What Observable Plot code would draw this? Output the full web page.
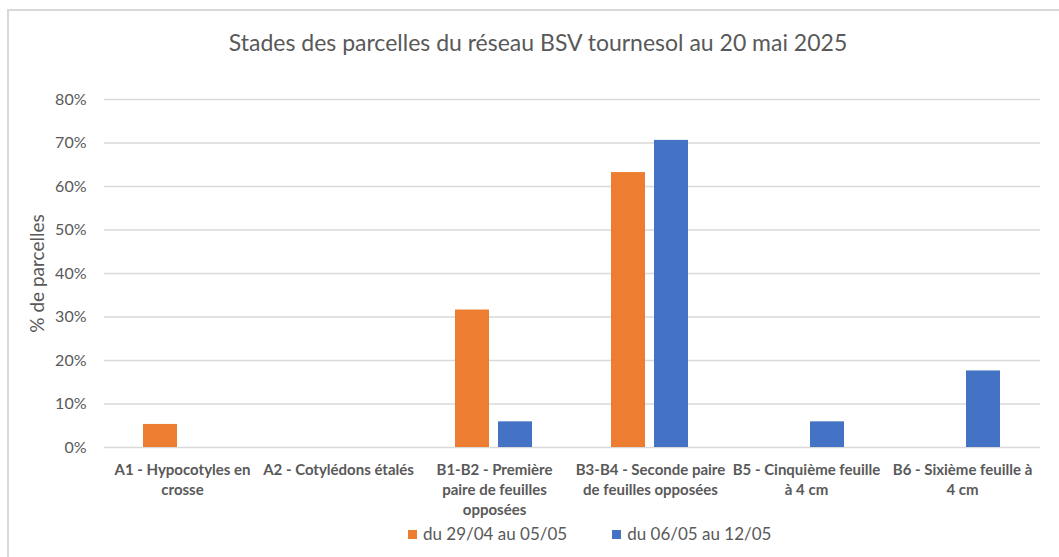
<!DOCTYPE html>
<html>
<head>
<meta charset="utf-8">
<script src="https://cdn.jsdelivr.net/npm/d3@7"></script>
<script src="https://cdn.jsdelivr.net/npm/@observablehq/plot@0.6"></script>
<style>
  html, body { margin: 0; padding: 0; background: #fff; overflow: hidden; }
  body { width: 1059px; height: 557px; position: relative; font-family: Lato, "Liberation Sans", sans-serif; color: #595959; }
  #frame { position: absolute; left: 7px; top: 9px; width: 1060px; height: 560px; border-left: 2px solid #d9d9d9; border-top: 2px solid #d9d9d9; box-sizing: border-box; }
  #title { position: absolute; left: 0; top: 27px; width: 1076px; text-align: center; font-size: 23px; line-height: 30px; }
  #chart { position: absolute; left: 0; top: 70px; }
  #legend { position: absolute; top: 523px; left: 408px; font-size: 17px; line-height: 22px; display: flex; align-items: center; }
  .item { display: flex; align-items: center; }
  .sw { width: 9px; height: 9px; margin-right: 6px; }
</style>
</head>
<body>
<div id="frame"></div>
<div id="title">Stades des parcelles du réseau BSV tournesol au 20 mai 2025</div>
<div id="chart"></div>
<div id="legend"></div>
<script>
// Data
const categories = [
  "A1 - Hypocotyles en crosse",
  "A2 - Cotylédons étalés",
  "B1-B2 - Première paire de feuilles opposées",
  "B3-B4 - Seconde paire de feuilles opposées",
  "B5 - Cinquième feuille à 4 cm",
  "B6 - Sixième feuille à 4 cm"
];
const categoryLabels = [
  "A1 - Hypocotyles en\ncrosse",
  "A2 - Cotylédons étalés",
  "B1-B2 - Première\npaire de feuilles\nopposées",
  "B3-B4 - Seconde paire\nde feuilles opposées",
  "B5 - Cinquième feuille\nà 4 cm",
  "B6 - Sixième feuille à\n4 cm"
];
const seriesNames = ["du 29/04 au 05/05", "du 06/05 au 12/05"];
const seriesColors = ["#ED7D31", "#4472C4"];
const values1 = [5.3, 0, 31.6, 63.2, 0, 0];   // du 29/04 au 05/05 (%)
const values2 = [0, 0, 5.9, 70.6, 5.9, 17.6]; // du 06/05 au 12/05 (%)
const yTicks = [0, 10, 20, 30, 40, 50, 60, 70, 80];

const data = [];
categories.forEach((c, i) => {
  data.push({category: c, series: seriesNames[0], value: values1[i]});
  data.push({category: c, series: seriesNames[1], value: values2[i]});
});
const labelOf = new Map(categories.map((c, i) => [c, categoryLabels[i]]));

const chart = Plot.plot({
  width: 1059,
  height: 452,
  marginLeft: 103,
  marginRight: 19,
  marginTop: 29,
  marginBottom: 75,
  style: {fontFamily: "Lato, 'Liberation Sans', sans-serif", color: "#595959", background: "transparent"},
  fx: {domain: categories, padding: 0},
  x: {domain: seriesNames, paddingInner: 0.2045, paddingOuter: 0.877, axis: null},
  y: {domain: [0, 80]},
  color: {domain: seriesNames, range: seriesColors},
  marks: [
    Plot.gridY(yTicks, {stroke: "#d9d9d9", strokeOpacity: 1, strokeWidth: 1.5}),
    Plot.barY(data.filter(d => d.value > 0), {fx: "category", x: "series", y: "value", fill: "series"}),
    Plot.ruleY(data, {fx: "category", y: 0, strokeOpacity: 0}),
    Plot.axisY({ticks: yTicks, facetAnchor: "left", tickSize: 0, tickPadding: 18, tickFormat: d => d + "%", fontSize: 16, label: "% de parcelles", labelAnchor: "center", labelArrow: "none", labelOffset: 74}),
    Plot.axisFx({anchor: "bottom", tickSize: 0, tickPadding: 13, tickFormat: d => labelOf.get(d), fontSize: 15, fontWeight: "bold", lineHeight: 1.34, label: null, textAnchor: "middle"})
  ]
});
chart.querySelectorAll("g[aria-label='y-axis label'] text").forEach(t => t.setAttribute("font-size", "19"));
document.getElementById("chart").appendChild(chart);

const legend = document.getElementById("legend");
seriesNames.forEach((s, i) => {
  const item = document.createElement("div");
  item.className = "item";
  item.style.marginRight = i === 0 ? "45px" : "0";
  const sw = document.createElement("div");
  sw.className = "sw";
  sw.style.background = seriesColors[i];
  const tx = document.createElement("span");
  tx.textContent = s;
  item.appendChild(sw);
  item.appendChild(tx);
  legend.appendChild(item);
});
</script>
</body>
</html>
